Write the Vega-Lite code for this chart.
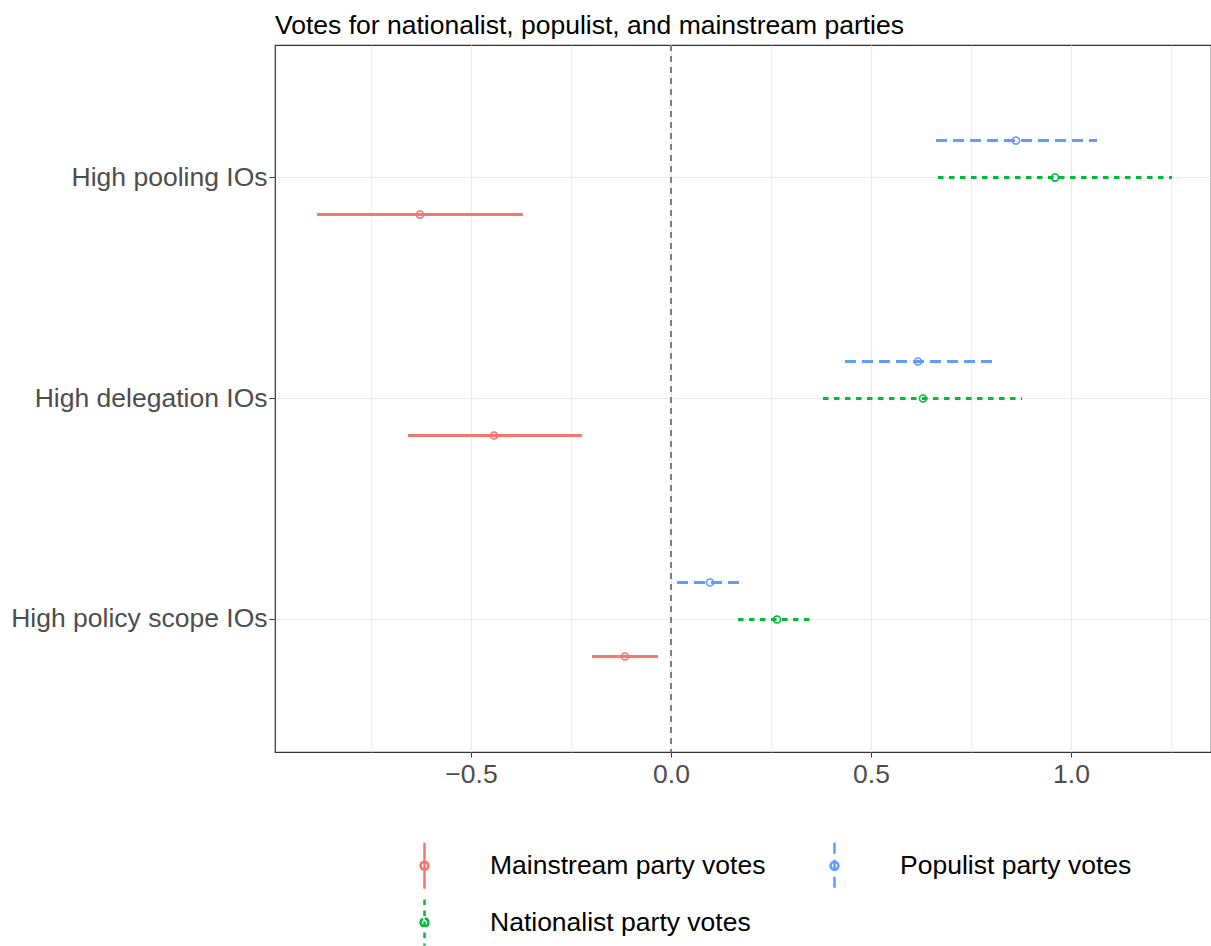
{
  "$schema": "https://vega.github.io/schema/vega-lite/v6.json",
  "width": 936,
  "height": 707,
  "autosize": {"type": "none"},
  "padding": {"left": 275, "top": 45, "right": 0, "bottom": 194},
  "background": "white",
  "title": {
    "text": "Votes for nationalist, populist, and mainstream parties",
    "anchor": "start",
    "frame": "group",
    "fontSize": 26.5,
    "font": "Liberation Sans",
    "fontWeight": "normal",
    "color": "#000000",
    "baseline": "bottom",
    "offset": -22
  },
  "config": {
    "view": {"stroke": "#333333", "strokeWidth": 1.2},
    "font": "Liberation Sans"
  },
  "data": {
    "values": [
      {"term": "High pooling IOs", "model": "Populist party votes", "est": 0.8625, "lo": 0.6625, "hi": 1.065},
      {"term": "High pooling IOs", "model": "Nationalist party votes", "est": 0.96, "lo": 0.6675, "hi": 1.2525},
      {"term": "High pooling IOs", "model": "Mainstream party votes", "est": -0.6275, "lo": -0.885, "hi": -0.37},
      {"term": "High delegation IOs", "model": "Populist party votes", "est": 0.6175, "lo": 0.435, "hi": 0.8025},
      {"term": "High delegation IOs", "model": "Nationalist party votes", "est": 0.63, "lo": 0.38, "hi": 0.8775},
      {"term": "High delegation IOs", "model": "Mainstream party votes", "est": -0.4425, "lo": -0.6575, "hi": -0.2225},
      {"term": "High policy scope IOs", "model": "Populist party votes", "est": 0.0975, "lo": 0.015, "hi": 0.17},
      {"term": "High policy scope IOs", "model": "Nationalist party votes", "est": 0.265, "lo": 0.1675, "hi": 0.3575},
      {"term": "High policy scope IOs", "model": "Mainstream party votes", "est": -0.115, "lo": -0.1975, "hi": -0.0325}
    ]
  },
  "encoding": {
    "y": {
      "field": "term",
      "type": "nominal",
      "sort": ["High pooling IOs", "High delegation IOs", "High policy scope IOs"],
      "scale": {"type": "band", "paddingInner": 0, "paddingOuter": 0.1},
      "axis": {
        "title": null,
        "bandPosition": 0.5,
        "labelFontSize": 26.5,
        "labelColor": "#4D4D4D",
        "labelPadding": 2,
        "labelLimit": 400,
        "tickSize": 6,
        "tickColor": "#333333",
        "domain": false,
        "grid": true,
        "gridColor": "#EBEBEB",
        "gridWidth": 1.2
      }
    },
    "yOffset": {
      "field": "model",
      "type": "nominal",
      "sort": ["Populist party votes", "Nationalist party votes", "Mainstream party votes"],
      "scale": {"type": "band", "paddingInner": 0, "paddingOuter": 0, "range": [55, 166]}
    }
  },
  "layer": [
    {
      "mark": {"type": "rule", "color": "#7F7F7F", "strokeDash": [6, 5], "strokeWidth": 1.1},
      "encoding": {
        "x": {"datum": 0, "type": "quantitative"},
        "y": null,
        "yOffset": null
      }
    },
    {
      "mark": {"type": "rule", "strokeWidth": 3},
      "encoding": {
        "x": {
          "field": "lo",
          "type": "quantitative",
          "scale": {"domain": [-0.99, 1.35], "nice": false, "zero": false},
          "axis": {
            "title": null,
            "values": [-0.75, -0.5, -0.25, 0, 0.25, 0.5, 0.75, 1, 1.25],
            "labelExpr": "abs(datum.value * 2 - round(datum.value * 2)) < 0.001 ? (datum.value < 0 ? '\u2212' + format(-datum.value, '.1f') : format(datum.value, '.1f')) : ''",
            "labelFontSize": 26.5,
            "labelColor": "#4D4D4D",
            "labelPadding": 4,
            "tickSize": 5,
            "tickColor": {"condition": {"test": "abs(datum.value * 2 - round(datum.value * 2)) < 0.001", "value": "#333333"}, "value": "rgba(0,0,0,0)"},
            "domain": false,
            "grid": true,
            "gridColor": "#EBEBEB",
            "gridWidth": {"condition": {"test": "abs(datum.value * 2 - round(datum.value * 2)) < 0.001", "value": 1.2}, "value": 0.8}
          }
        },
        "x2": {"field": "hi"},
        "color": {
          "field": "model",
          "type": "nominal",
          "scale": {
            "domain": ["Mainstream party votes", "Populist party votes", "Nationalist party votes"],
            "range": ["#F8766D", "#619CFF", "#00BA38"]
          },
          "legend": {
            "title": null,
            "orient": "none",
            "legendX": 125,
            "legendY": 796,
            "direction": "horizontal",
            "columns": 2,
            "columnPadding": 44,
            "rowPadding": 0,
            "padding": 0,
            "labelFontSize": 26.5,
            "labelColor": "#000000",
            "labelOffset": 41,
            "labelLimit": 500,
            "symbolType": "M0.17,0A0.17,0.17,0,1,1,-0.17,0A0.17,0.17,0,1,1,0.17,0A0.17,0.17,0,1,1,-0.17,0A0.17,0.17,0,1,1,0.17,0A0.17,0.17,0,1,1,-0.17,0A0.17,0.17,0,1,1,0.17,0M0,-1L0,1",
            "symbolSize": 2116,
            "symbolStrokeWidth": 2.5,
            "symbolFillColor": "transparent"
          }
        },
        "strokeDash": {
          "field": "model",
          "type": "nominal",
          "scale": {
            "domain": ["Mainstream party votes", "Populist party votes", "Nationalist party votes"],
            "range": [[1, 0], [11, 6], [5.5, 5.5]]
          },
          "legend": null
        }
      }
    },
    {
      "mark": {"type": "point", "shape": "circle", "filled": false, "size": 50, "strokeWidth": 1.6, "opacity": 1},
      "encoding": {
        "x": {"field": "est", "type": "quantitative"},
        "color": {"field": "model", "type": "nominal"}
      }
    }
  ]
}
